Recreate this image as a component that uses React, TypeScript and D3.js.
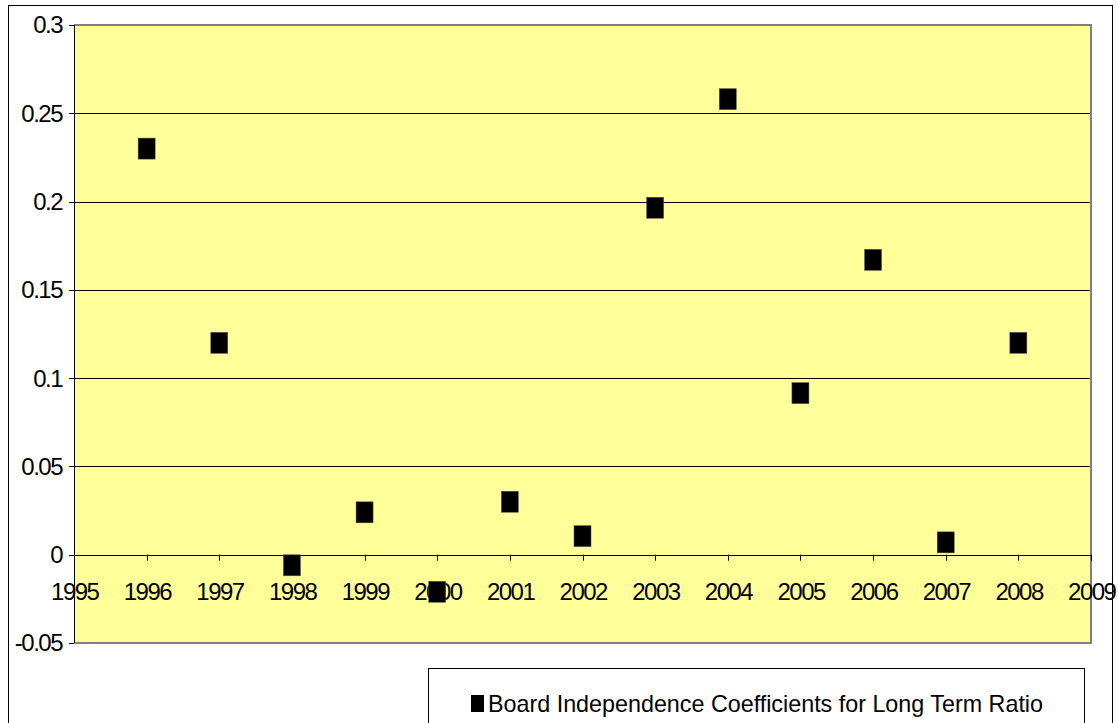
import React from "react";
import * as d3 from "d3";

const years = [1996, 1997, 1998, 1999, 2000, 2001, 2002, 2003, 2004, 2005, 2006, 2007, 2008];
const coefficients = [0.230, 0.120, -0.006, 0.024, -0.021, 0.030, 0.0105, 0.1965, 0.258, 0.0915, 0.167, 0.007, 0.120];
const xTicks = [1995, 1996, 1997, 1998, 1999, 2000, 2001, 2002, 2003, 2004, 2005, 2006, 2007, 2008, 2009];
const yTicks = [-0.05, 0, 0.05, 0.1, 0.15, 0.2, 0.25, 0.3];
const yTickLabels = ["-0.05", "0", "0.05", "0.1", "0.15", "0.2", "0.25", "0.3"];
const seriesName = "Board Independence Coefficients for Long Term Ratio";

const W = 1118;
const H = 723;
const plotL = 74, plotR = 1091, plotT = 25, plotB = 643;

export default function App() {
  const x = d3.scaleLinear().domain([1995, 2009]).range([plotL, plotR]);
  const y = d3.scaleLinear().domain([-0.05, 0.3]).range([plotB, plotT]);
  const y0 = y(0);
  const font = "'Liberation Sans', Arial, sans-serif";
  const mw = 17, mh = 21;
  return (
    <svg width={W} height={H} style={{ position: "absolute", left: 0, top: 0 }} fontFamily={font}>
      <rect x={0} y={0} width={W} height={H} fill="#ffffff" />
      <rect x={8.5} y={5.5} width={1104} height={760} fill="none" stroke="#000" strokeWidth={1} />
      <rect x={plotL} y={plotT} width={plotR - plotL} height={plotB - plotT} fill="#FFFF99" />
      {yTicks.filter(v => v > 0 && v < 0.3).map(v => (
        <line key={"g" + v} x1={plotL} x2={plotR} y1={Math.round(y(v)) + 0.5} y2={Math.round(y(v)) + 0.5} stroke="#000" strokeWidth={1} />
      ))}
      <path d={`M${plotL},${plotT} H${plotR} V${plotB} H${plotL}`} fill="none" stroke="#808080" strokeWidth={2} />
      <line x1={plotL + 0.5} x2={plotL + 0.5} y1={plotT} y2={plotB} stroke="#000" strokeWidth={1} />
      {yTicks.map((v, i) => (
        <g key={"y" + v}>
          <line x1={plotL - 5} x2={plotL} y1={Math.round(y(v)) + 0.5} y2={Math.round(y(v)) + 0.5} stroke="#000" />
          <text x={62} y={y(v)} dy="0.35em" textAnchor="end" fontSize={24} letterSpacing={-1.5} fill="#000">{yTickLabels[i]}</text>
        </g>
      ))}
      <line x1={plotL} x2={plotR} y1={Math.round(y0) + 0.5} y2={Math.round(y0) + 0.5} stroke="#000" />
      {xTicks.map(t => (
        <g key={"x" + t}>
          <line x1={Math.round(x(t)) + 0.5} x2={Math.round(x(t)) + 0.5} y1={y0} y2={y0 + 6} stroke="#000" />
          <text x={x(t) + 0.75} y={600} textAnchor="middle" fontSize={24} letterSpacing={-1.5} fill="#000">{t}</text>
        </g>
      ))}
      {years.map((yr, i) => (
        <rect key={"m" + yr} x={x(yr) - mw / 2} y={y(coefficients[i]) - mh / 2} width={mw} height={mh} fill="#000" stroke="#555" strokeWidth={0.5} />
      ))}
      <rect x={428.5} y={668.5} width={656} height={80} fill="#fff" stroke="#000" strokeWidth={1} />
      <rect x={471} y={695} width={13} height={17} fill="#000" />
      <text x={488} y={712} fontSize={24} textLength={555} lengthAdjust="spacingAndGlyphs" fill="#000">{seriesName}</text>
    </svg>
  );
}
